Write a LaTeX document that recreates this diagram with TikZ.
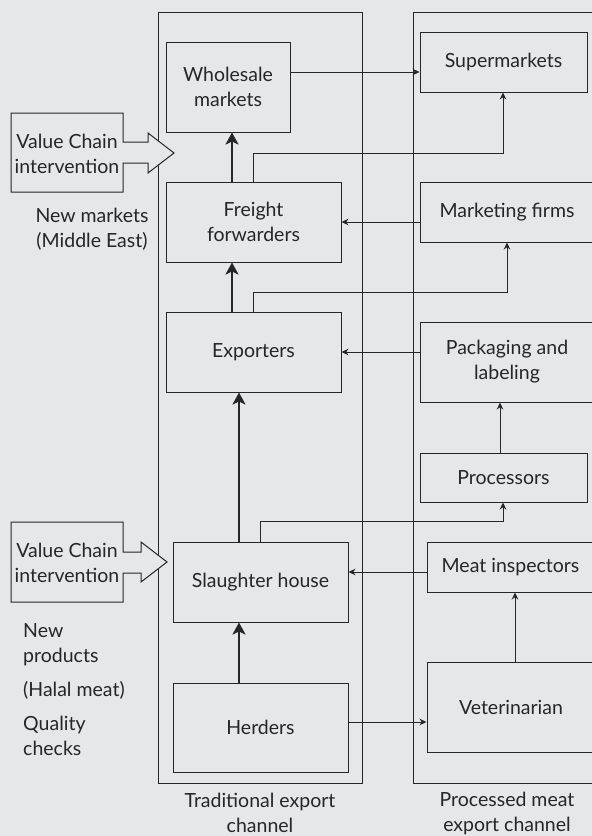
\documentclass[tikz,border=0pt]{standalone}
\usepackage{fontspec}
\setmainfont{Lato}
\usetikzlibrary{arrows.meta}
\definecolor{bg}{RGB}{230,231,233}
\definecolor{ink}{RGB}{38,38,38}
\begin{document}
\begin{tikzpicture}[x=1pt,y=-1pt,
  font=\fontsize{19.5}{25}\selectfont,
  every node/.style={text=ink},
  panel/.style={draw=ink,line width=1pt},
  stagebox/.style={draw=ink,line width=1pt,align=center,inner sep=0pt},
  label/.style={align=center,inner sep=0pt},
  flow/.style={draw=ink,line width=0.9pt,-{Stealth[length=7pt,width=6.5pt]}},
  mainflow/.style={draw=ink,line width=2.4pt,-{Stealth[length=12pt,width=13pt,inset=3pt]}},
  outline/.style={draw=ink,fill=bg,line width=1pt,line join=miter}]
% page and background
\clip (0,0) rectangle (592,836);
\fill[bg] (0,0) rectangle (592,836);

% the two channels
\draw[panel] (158,12) rectangle (362,783);
\draw[panel] (413,12) rectangle (610,783);
\node[label] (tradlab) at (260,813) {Traditional export\\channel};
\node[label] (proclab) at (507,813) {Processed meat\\export channel};

% traditional export channel
\node[stagebox,minimum width=124pt,minimum height=90pt] (wholesale) at (228,87) {Wholesale\\markets};
\node[stagebox,minimum width=175pt,minimum height=80pt] (freight) at (253.5,222) {Freight\\forwarders};
\node[stagebox,minimum width=175pt,minimum height=80pt] (exporters) at (253.5,352) {Exporters};
\node[stagebox,minimum width=175pt,minimum height=80pt] (slaughter) at (260.5,582) {Slaughter house};
\node[stagebox,minimum width=175pt,minimum height=89pt] (herders) at (260.5,727.5) {Herders};

% processed meat export channel
\node[stagebox,minimum width=167pt,minimum height=60pt] (super) at (503.5,62) {Supermarkets};
\node[stagebox,minimum width=174pt,minimum height=60pt] (marketing) at (507,212) {Marketing firms};
\node[stagebox,minimum width=174pt,minimum height=80pt] (packaging) at (507,362) {Packaging and\\labeling};
\node[stagebox,minimum width=167pt,minimum height=49pt] (processors) at (503.5,477.5) {Processors};
\node[stagebox,minimum width=167pt,minimum height=50pt] (meat) at (510.5,567) {Meat inspectors};
\node[stagebox,minimum width=168pt,minimum height=90pt] (vet) at (511,707) {Veterinarian};

% main flow up the traditional channel
\draw[mainflow] (freight.north -| 232,0) -- (wholesale.south -| 232,0);
\draw[mainflow] (exporters.north -| 232,0) -- (freight.south -| 232,0);
\draw[mainflow] (slaughter.north -| 239,0) -- (exporters.south -| 239,0);
\draw[mainflow] (herders.north -| 239,0) -- (slaughter.south -| 239,0);

% links between the channels
\draw[flow] (wholesale.east |- 0,72) -- (super.west |- 0,72);
\draw[flow] (freight.north) |- (503,153) -- (super.south -| 503,0);
\draw[flow] (marketing.west |- freight) -- (freight.east);
\draw[flow] (exporters.north) |- (marketing.south |- 0,292) -- (marketing.south);
\draw[flow] (packaging.west |- exporters) -- (exporters.east);
\draw[flow] (processors.north -| 500,0) -- (packaging.south -| 500,0);
\draw[flow] (slaughter.north) |- (503,521) -- (processors.south -| 503,0);
\draw[flow] (meat.west |- 0,572) -- (slaughter.east |- 0,572);
\draw[flow] (vet.north -| 515,0) -- (meat.south -| 515,0);
\draw[flow] (herders.east |- 0,722) -- (vet.west |- 0,722);

% value chain interventions: box and block arrow drawn as one filled outline
\draw[outline] (123,142) -- (123,113) -- (11,113) -- (11,192)
  -- (123,192) -- (123,163) -- (148,163) -- (148,173) -- (174,153)
  -- (148,133) -- (148,142) -- cycle;
\node[label,minimum width=112pt,minimum height=79pt] (vc1) at (67,154) {Value Chain\\intervention};
\draw[outline] (123,552) -- (123,522) -- (11,522) -- (11,602)
  -- (123,602) -- (123,573) -- (141,573) -- (141,582) -- (167,562)
  -- (141,542) -- (141,552) -- cycle;
\node[label,minimum width=112pt,minimum height=80pt] (vc2) at (67,563) {Value Chain\\intervention};

% notes on the interventions
\node[label] (newmarkets) at (92,229) {New markets\\(Middle East)};
\node[align=left,inner sep=0pt,anchor=north west] (notes) at (23,623)
  {New\\products\\[9pt](Halal meat)\\[9pt]Quality\\checks};
\end{tikzpicture}
\end{document}
